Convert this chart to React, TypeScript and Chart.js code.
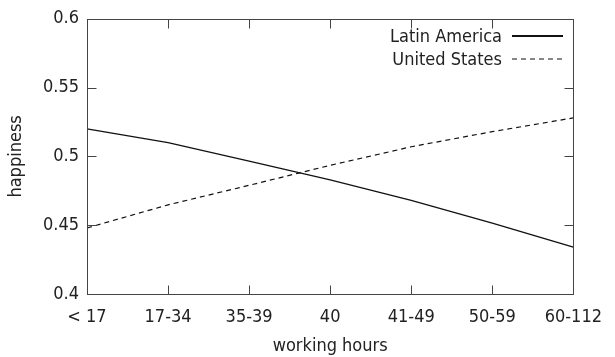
import React, { useEffect, useRef } from 'react';
import { Chart, registerables } from 'chart.js';

Chart.register(...registerables);

const categories = ['< 17', '17-34', '35-39', '40', '41-49', '50-59', '60-112'];
const latinAmerica = [0.520, 0.510, 0.4965, 0.483, 0.468, 0.4515, 0.434];
const unitedStates = [0.448, 0.4648, 0.479, 0.4935, 0.507, 0.518, 0.528];
const seriesNames = ['Latin America', 'United States'];
const yTickValues = [0.4, 0.45, 0.5, 0.55, 0.6];
const xTitle = 'working hours';
const yTitle = 'happiness';

const FONT = "'DejaVu Sans Condensed', 'DejaVu Sans', sans-serif";
const TEXT = '#222';
const FRAME = '#444';

const framePlugin = {
  id: 'gnuFrame',
  afterDatasetsDraw(chart: any) {
    const { ctx, chartArea: a, scales } = chart;
    const L = Math.round(a.left) + 0.5;
    const R = Math.round(a.right) + 0.5;
    const T = Math.round(a.top) + 0.5;
    const B = Math.round(a.bottom) + 0.5;
    ctx.save();
    ctx.strokeStyle = FRAME;
    ctx.lineWidth = 1;
    ctx.strokeRect(L, T, R - L, B - T);
    const tl = 9;
    ctx.beginPath();
    yTickValues.forEach((v) => {
      const y = Math.round(scales.y.getPixelForValue(v)) + 0.5;
      ctx.moveTo(L, y); ctx.lineTo(L + tl, y);
      ctx.moveTo(R, y); ctx.lineTo(R - tl, y);
    });
    categories.forEach((_, i) => {
      const x = Math.round(scales.x.getPixelForValue(i)) + 0.5;
      ctx.moveTo(x, B); ctx.lineTo(x, B - tl);
      ctx.moveTo(x, T); ctx.lineTo(x, T + tl);
    });
    ctx.stroke();

    // gnuplot-style key
    const textRight = 502;
    const sx0 = 512;
    const sx1 = 563;
    const rows = [36, 59];
    ctx.font = `18px ${FONT}`;
    ctx.fillStyle = TEXT;
    ctx.textAlign = 'right';
    ctx.textBaseline = 'middle';
    chart.data.datasets.forEach((ds: any, i: number) => {
      const y = rows[i];
      ctx.fillText(ds.label, textRight, y + 1);
      ctx.beginPath();
      ctx.strokeStyle = ds.borderColor;
      ctx.lineWidth = ds.borderDash && ds.borderDash.length ? 1.2 : 2;
      ctx.setLineDash(ds.borderDash || []);
      ctx.moveTo(sx0, y);
      ctx.lineTo(sx1, y);
      ctx.stroke();
      ctx.setLineDash([]);
    });
    ctx.restore();
  },
};

export default function App() {
  const ref = useRef<HTMLCanvasElement>(null);
  useEffect(() => {
    if (!ref.current) return;
    const chart = new Chart(ref.current, {
      type: 'line',
      data: {
        labels: categories,
        datasets: [
          {
            label: seriesNames[0],
            data: latinAmerica,
            borderColor: '#111',
            borderWidth: 1.3,
            pointRadius: 0,
            tension: 0,
            fill: false,
          },
          {
            label: seriesNames[1],
            data: unitedStates,
            borderColor: '#111',
            borderWidth: 1.2,
            borderDash: [5, 4],
            pointRadius: 0,
            tension: 0,
            fill: false,
          },
        ],
      },
      options: {
        responsive: false,
        animation: false,
        layout: { padding: { top: 15, right: 31, left: 0, bottom: 0 } },
        plugins: { legend: { display: false }, tooltip: { enabled: false } },
        scales: {
          x: {
            type: 'category',
            offset: false,
            grid: { display: false, drawTicks: false },
            border: { display: false },
            ticks: { color: TEXT, font: { family: FONT, size: 18 }, padding: 13, maxRotation: 0, autoSkip: false },
            title: { display: true, text: xTitle, color: TEXT, font: { family: FONT, size: 18 }, padding: { top: 0, bottom: 0 } },
            afterFit: (s: any) => { s.height = 63; },
          },
          y: {
            min: 0.4,
            max: 0.6,
            grid: { display: false, drawTicks: false },
            border: { display: false },
            afterBuildTicks: (s: any) => { s.ticks = yTickValues.map((v) => ({ value: v })); },
            ticks: {
              color: TEXT,
              font: { family: FONT, size: 18 },
              padding: 8,
              callback: (v: any) => String(Number(Number(v).toFixed(2))),
            },
            title: { display: true, text: yTitle, color: TEXT, font: { family: FONT, size: 18 }, padding: { top: 6, bottom: 0 } },
            afterFit: (s: any) => { s.width = 87; },
          },
        },
      },
      plugins: [framePlugin],
    });
    return () => chart.destroy();
  }, []);
  return (
    <div style={{ position: 'absolute', left: 0, top: 0, width: 615, height: 357, background: '#fff' }}>
      <canvas ref={ref} width={615} height={357} style={{ display: 'block' }} />
    </div>
  );
}
